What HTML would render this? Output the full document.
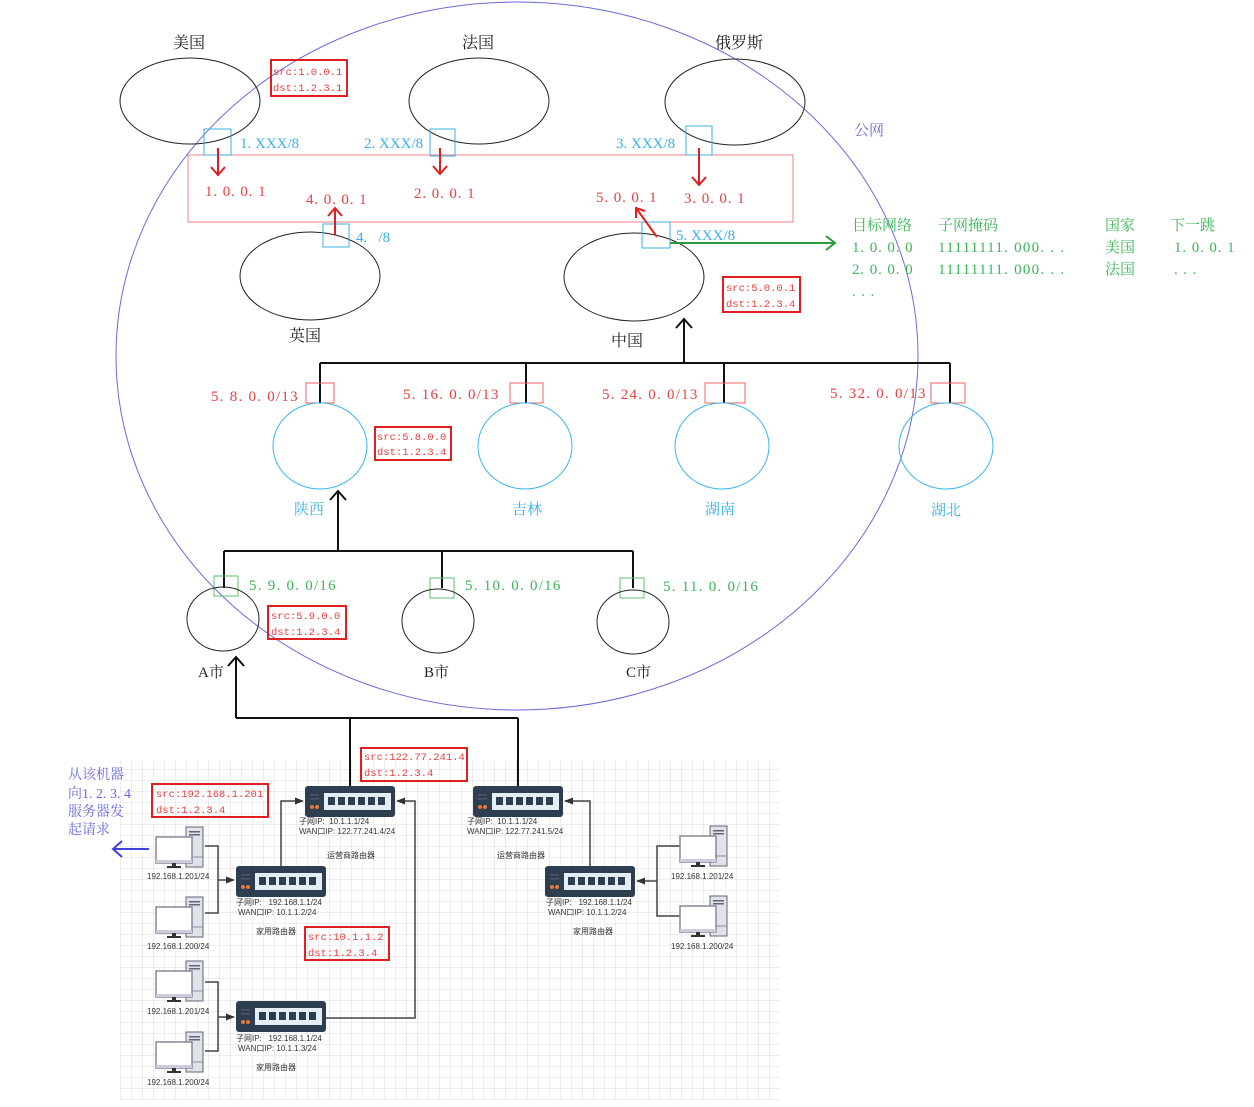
<!DOCTYPE html>
<html><head><meta charset="utf-8"><style>
html,body{margin:0;padding:0;background:#fff;}
svg{display:block;}
text{font-family:"Liberation Serif","Noto Serif CJK SC",serif;}
.s{font-family:"Liberation Sans","Noto Sans CJK SC",sans-serif;font-size:8px;fill:#333;}
.m text{font-family:"Liberation Mono","Noto Sans CJK SC",monospace;}
.ls1{letter-spacing:0.9px;}
.ls2{letter-spacing:1.25px;}
</style></head><body>
<svg width="1254" height="1107" viewBox="0 0 1254 1107" xmlns="http://www.w3.org/2000/svg">
<defs>
<pattern id="grid" width="11" height="11" patternUnits="userSpaceOnUse">
<path d="M11 0V11H0" fill="none" stroke="#dedede" stroke-width="1"/>
</pattern>
<marker id="ah" viewBox="0 0 10 10" refX="9" refY="5" markerWidth="6" markerHeight="6" orient="auto"><path d="M0,1L10,5L0,9Z" fill="#333"/></marker>
<g id="router">
<rect x="0" y="0" width="90" height="31" rx="3" fill="#2c3e50"/>
<rect x="19" y="7" width="67" height="17" fill="#e6eef5"/>
<g fill="#2c3e50">
<rect x="23" y="11" width="7" height="8"/><rect x="33" y="11" width="7" height="8"/><rect x="43" y="11" width="7" height="8"/>
<rect x="53" y="11" width="7" height="8"/><rect x="63" y="11" width="7" height="8"/><rect x="73" y="11" width="7" height="8"/>
</g>
<rect x="5" y="8" width="9" height="1.5" fill="#556"/><rect x="5" y="12" width="9" height="1.5" fill="#556"/>
<circle cx="7" cy="21" r="2" fill="#e8763a"/><circle cx="12" cy="21" r="2" fill="#e8763a"/>
</g>
<g id="pc">
<rect x="30" y="0" width="17" height="40" fill="#dfe3e8" stroke="#667" stroke-width="1"/>
<rect x="33" y="4" width="11" height="1.5" fill="#667"/><rect x="33" y="7" width="11" height="1.5" fill="#667"/>
<line x1="30" y1="30" x2="47" y2="30" stroke="#889"/>
<rect x="0" y="10" width="36" height="26" fill="#fff" stroke="#889" stroke-width="1.5"/>
<rect x="0" y="33" width="36" height="3" fill="#ccd"/>
<rect x="16" y="36" width="4" height="3" fill="#333"/><rect x="11" y="39" width="14" height="2" fill="#333"/>
</g>
</defs>

<rect x="120" y="760" width="660" height="340" fill="url(#grid)"/>

<ellipse cx="517" cy="356" rx="401" ry="354" fill="none" stroke="#6b6bdc" stroke-width="1"/>
<text x="854" y="135" font-size="15" fill="#6b6bdc">公网</text>

<g fill="none" stroke="#222" stroke-width="1">
<ellipse cx="190" cy="101" rx="70" ry="43"/>
<ellipse cx="479" cy="101" rx="70" ry="43"/>
<ellipse cx="735" cy="102" rx="70" ry="43"/>
<ellipse cx="310" cy="276" rx="70" ry="44"/>
<ellipse cx="634" cy="277" rx="70" ry="44"/>
</g>
<g font-size="16" fill="#222">
<text x="173" y="48">美国</text>
<text x="462" y="48">法国</text>
<text x="715" y="48">俄罗斯</text>
<text x="289" y="341">英国</text>
<text x="611" y="346">中国</text>
</g>

<rect x="188" y="155" width="605" height="67" fill="none" stroke="#f08080" stroke-width="1"/>
<g fill="none" stroke="#3ab0e6" stroke-width="1">
<rect x="204" y="129" width="27" height="26"/>
<rect x="430" y="129" width="25" height="27"/>
<rect x="686" y="126" width="26" height="29"/>
<rect x="323" y="224" width="26" height="23"/>
<rect x="642" y="222" width="28" height="26"/>
</g>
<g font-size="15" fill="#3ab0e6">
<text x="240" y="148">1. XXX/8</text>
<text x="364" y="148">2. XXX/8</text>
<text x="616" y="148">3. XXX/8</text>
<text x="356" y="242" xml:space="preserve">4.   /8</text>
<text x="676" y="240">5. XXX/8</text>
</g>
<g stroke="#e02020" stroke-width="2" fill="none">
<path d="M218 148V174M211 167L218 175L225 167"/>
<path d="M440 148V173M433 166L440 174L447 166"/>
<path d="M699 148V185M692 177L699 185L706 177"/>
<path d="M335 235V209M328 216L335 208L342 216"/>
<path d="M657 237L636 208M636 218L636 208L645 211"/>
</g>
<g font-size="15" fill="#e84040" class="ls1">
<text x="205" y="196">1. 0. 0. 1</text>
<text x="306" y="204">4. 0. 0. 1</text>
<text x="414" y="198">2. 0. 0. 1</text>
<text x="596" y="202">5. 0. 0. 1</text>
<text x="684" y="203">3. 0. 0. 1</text>
</g>

<g fill="none" stroke="#e02020" stroke-width="2">
<rect x="271" y="60" width="76" height="36"/>
<rect x="723" y="277" width="77" height="35"/>
<rect x="375" y="427" width="76" height="33"/>
<rect x="268" y="606" width="78" height="33"/>
<rect x="361" y="748" width="106" height="33"/>
<rect x="152" y="784" width="116" height="33"/>
<rect x="305" y="927" width="84" height="33"/>
</g>
<g font-size="10.5" fill="#e84040" class="m">
<text x="273" y="75">src:1.0.0.1</text><text x="273" y="91">dst:1.2.3.1</text>
<text x="726" y="291">src:5.0.0.1</text><text x="726" y="307">dst:1.2.3.4</text>
<text x="377" y="440">src:5.8.0.0</text><text x="377" y="455">dst:1.2.3.4</text>
<text x="271" y="619">src:5.9.0.0</text><text x="271" y="635">dst:1.2.3.4</text>
<text x="364" y="760">src:122.77.241.4</text><text x="364" y="776">dst:1.2.3.4</text>
<text x="156" y="797">src:192.168.1.201</text><text x="156" y="813">dst:1.2.3.4</text>
<text x="308" y="940">src:10.1.1.2</text><text x="308" y="956">dst:1.2.3.4</text>
</g>

<path d="M670 243H835M826 236L835 243L826 250" stroke="#2a9d3a" stroke-width="2" fill="none"/>
<g font-size="15" fill="#3cb55a">
<text x="852" y="230">目标网络</text><text x="938" y="230">子网掩码</text><text x="1105" y="230">国家</text><text x="1170" y="230">下一跳</text>
<text x="852" y="252" class="ls1">1. 0. 0. 0</text><text x="938" y="252" class="ls2">11111111. 000. . .</text><text x="1105" y="252">美国</text><text x="1174" y="252" class="ls1">1. 0. 0. 1</text>
<text x="852" y="274" class="ls1">2. 0. 0. 0</text><text x="938" y="274" class="ls2">11111111. 000. . .</text><text x="1105" y="274">法国</text><text x="1174" y="274" class="ls1">. . .</text>
<text x="852" y="296" class="ls1">. . .</text>
</g>

<g stroke="#111" stroke-width="2" fill="none">
<path d="M320 363H950M320 363V403M526 363V403M724 363V403M950 363V403"/>
<path d="M684 363V320M676 328L684 319L692 328"/>
</g>
<g fill="none" stroke="#f06060" stroke-width="1">
<rect x="306" y="383" width="28" height="20"/>
<rect x="510" y="383" width="33" height="20"/>
<rect x="705" y="383" width="40" height="20"/>
<rect x="931" y="383" width="34" height="20"/>
</g>
<g font-size="15" fill="#e84040" class="ls2">
<text x="211" y="401">5. 8. 0. 0/13</text>
<text x="403" y="399">5. 16. 0. 0/13</text>
<text x="602" y="399">5. 24. 0. 0/13</text>
<text x="830" y="398">5. 32. 0. 0/13</text>
</g>
<g fill="none" stroke="#3ab8ea" stroke-width="1">
<ellipse cx="320" cy="446" rx="47" ry="43"/>
<ellipse cx="525" cy="446" rx="47" ry="43"/>
<ellipse cx="722" cy="446" rx="47" ry="43"/>
<ellipse cx="946" cy="446" rx="47" ry="43"/>
</g>
<g font-size="15" fill="#3ab0e6">
<text x="294" y="514">陕西</text><text x="512" y="514">吉林</text><text x="705" y="514">湖南</text><text x="931" y="515">湖北</text>
</g>

<g stroke="#111" stroke-width="2" fill="none">
<path d="M224 551H633M224 551V588M442 551V588M633 551V588"/>
<path d="M338 551V492M330 500L338 491L346 500"/>
<path d="M236 718V658M228 666L236 657L244 666"/>
<path d="M236 718H518M350 718V786M518 718V786"/>
</g>
<g fill="none" stroke="#5cc070" stroke-width="1">
<rect x="214" y="576" width="24" height="20"/>
<rect x="430" y="578" width="24" height="20"/>
<rect x="620" y="578" width="24" height="20"/>
</g>
<g font-size="15" fill="#3cb55a" class="ls2">
<text x="249" y="590">5. 9. 0. 0/16</text>
<text x="465" y="590">5. 10. 0. 0/16</text>
<text x="663" y="591">5. 11. 0. 0/16</text>
</g>
<g fill="none" stroke="#222" stroke-width="1">
<ellipse cx="223" cy="619" rx="36" ry="32"/>
<ellipse cx="438" cy="621" rx="36" ry="32"/>
<ellipse cx="633" cy="622" rx="36" ry="32"/>
</g>
<g font-size="15" fill="#222">
<text x="198" y="677">A市</text><text x="424" y="677">B市</text><text x="626" y="677">C市</text>
</g>

<g font-size="14" fill="#6b6bdc">
<text x="68" y="779">从该机器</text><text x="68" y="798">向1. 2. 3. 4</text><text x="68" y="816">服务器发</text><text x="68" y="834">起请求</text>
</g>
<path d="M149 849H114M122 841L113 849L122 857" stroke="#4040e0" stroke-width="2" fill="none"/>

<g stroke="#444" stroke-width="1.5" fill="none">
<path d="M281 866V801H303" marker-end="url(#ah)"/>
<path d="M325 1018H415V801H397" marker-end="url(#ah)"/>
<path d="M590 866V801H565" marker-end="url(#ah)"/>
<path d="M205 846H218V913H205M218 880H234" marker-end="url(#ah)"/>
<path d="M205 982H218V1051H205M218 1017H234" marker-end="url(#ah)"/>
<path d="M680 846H657V916H680M657 881H637" marker-end="url(#ah)"/>
</g>

<use href="#router" x="305" y="786"/>
<use href="#router" x="473" y="786"/>
<use href="#router" x="236" y="866"/>
<use href="#router" x="545" y="866"/>
<use href="#router" x="236" y="1001"/>

<use href="#pc" x="156" y="827"/>
<use href="#pc" x="156" y="897"/>
<use href="#pc" x="156" y="961"/>
<use href="#pc" x="156" y="1032"/>
<use href="#pc" x="680" y="826"/>
<use href="#pc" x="680" y="896"/>

<text class="s" x="299" y="824">子网IP:&#160;&#160;10.1.1.1/24</text>
<text class="s" x="299" y="834">WAN口IP:&#160;122.77.241.4/24</text>
<text class="s" x="327" y="858">运营商路由器</text>
<text class="s" x="467" y="824">子网IP:&#160;&#160;10.1.1.1/24</text>
<text class="s" x="467" y="834">WAN口IP:&#160;122.77.241.5/24</text>
<text class="s" x="497" y="858">运营商路由器</text>
<text class="s" x="236" y="905">子网IP:&#160;&#160;&#160;192.168.1.1/24</text>
<text class="s" x="238" y="915">WAN口IP:&#160;10.1.1.2/24</text>
<text class="s" x="256" y="934">家用路由器</text>
<text class="s" x="546" y="905">子网IP:&#160;&#160;&#160;192.168.1.1/24</text>
<text class="s" x="548" y="915">WAN口IP:&#160;10.1.1.2/24</text>
<text class="s" x="573" y="934">家用路由器</text>
<text class="s" x="236" y="1041">子网IP:&#160;&#160;&#160;192.168.1.1/24</text>
<text class="s" x="238" y="1051">WAN口IP:&#160;10.1.1.3/24</text>
<text class="s" x="256" y="1070">家用路由器</text>
<text class="s" x="147" y="879">192.168.1.201/24</text>
<text class="s" x="147" y="949">192.168.1.200/24</text>
<text class="s" x="147" y="1014">192.168.1.201/24</text>
<text class="s" x="147" y="1085">192.168.1.200/24</text>
<text class="s" x="671" y="879">192.168.1.201/24</text>
<text class="s" x="671" y="949">192.168.1.200/24</text>
</svg>
</body></html>
